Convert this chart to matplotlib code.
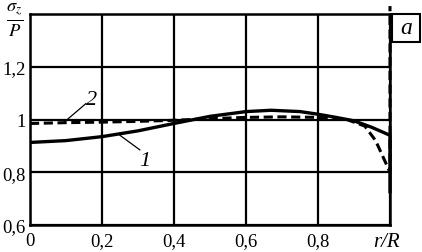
import matplotlib
matplotlib.use("Agg")
import matplotlib.pyplot as plt
from matplotlib.patches import Rectangle

plt.rcParams['font.family'] = ['Liberation Serif', 'DejaVu Serif']
plt.rcParams['mathtext.fontset'] = 'stix'

# curve 1 (solid)
r1 = [0.0, 0.1, 0.2, 0.3, 0.4, 0.5, 0.6, 0.67, 0.75, 0.8, 0.85, 0.9, 0.95, 1.0, 1.0]
s1 = [0.913, 0.92, 0.935, 0.957, 0.985, 1.012, 1.03, 1.035, 1.03, 1.02, 1.008, 0.995, 0.97, 0.94, 0.72]
# curve 2 (dashed)
r2 = [0.0, 0.1, 0.2, 0.3, 0.4, 0.5, 0.6, 0.7, 0.8, 0.88, 0.93, 0.96, 0.98, 1.0, 1.0]
s2 = [0.985, 0.988, 0.99, 0.993, 0.997, 1.003, 1.008, 1.01, 1.008, 1.0, 0.975, 0.92, 0.86, 0.8, 1.43]

xticks = [0, 0.2, 0.4, 0.6, 0.8, 1.0]
xlabels = ['0', '0,2', '0,4', '0,6', '0,8', '']
yticks = [0.6, 0.8, 1.0, 1.2]
ylabels = ['0,6', '0,8', '1', '1,2']

fig = plt.figure(figsize=(4.22, 2.53), dpi=100)
ax = fig.add_axes([30/422, 27/253, 360/422, 211/253])
ax.set_xlim(0, 1.0)
ax.set_ylim(0.6, 1.4)

ax.set_xticks(xticks)
ax.set_xticklabels(xlabels, fontsize=13.5)
ax.set_yticks(yticks)
ax.set_yticklabels(ylabels, fontsize=13.5)
ax.tick_params(axis='y', length=0, pad=3)
ax.tick_params(axis='x', length=0, pad=5)
ax.grid(True, color='black', linewidth=1.6)
for sp in ax.spines.values():
    sp.set_linewidth(1.8)

ax.plot(r1, s1, color='black', linewidth=2.4, clip_on=False, solid_capstyle='butt')
ax.plot(r2, s2, color='black', linewidth=2.2, linestyle=(0, (3, 1.5)), clip_on=False)

# curve labels
ax.plot([0.25, 0.305], [0.94, 0.885], color='black', linewidth=0.9)
ax.text(0.32, 0.845, '1', fontsize=16, style='italic', ha='center', va='center')
ax.plot([0.095, 0.155], [0.99, 1.06], color='black', linewidth=0.9)
ax.text(0.17, 1.075, '2', fontsize=16, style='italic', ha='center', va='center')

# axis labels
fig.text(386/422, 1 - 243/253, 'r/R', fontsize=15, style='italic', ha='center', va='center')
fig.text(15/422, 1 - 20/253, r'$\frac{\sigma_z}{P}$', fontsize=19, ha='center', va='center')

# panel letter box
fig.add_artist(Rectangle((392/422, 1 - 43/253), 28/422, 28/253, transform=fig.transFigure,
                         facecolor='white', edgecolor='black', linewidth=1.5))
fig.text(406/422, 1 - 29/253, 'a', fontsize=17, style='italic', ha='center', va='center')

fig.savefig('out.png', dpi=100)
